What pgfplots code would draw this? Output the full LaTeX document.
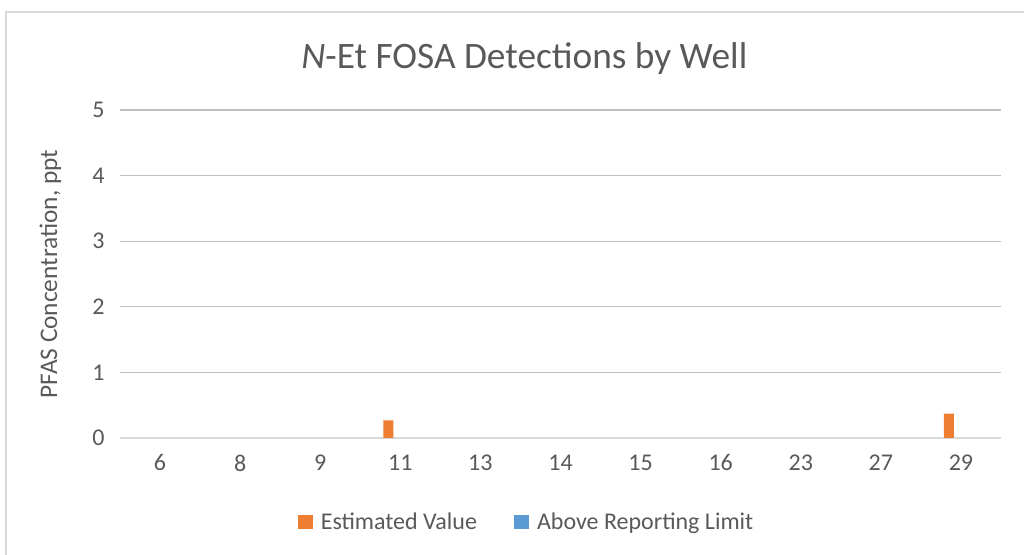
\documentclass[border=0pt]{standalone}
\usepackage{pgfplots}
\pgfplotsset{compat=1.18}
\usepackage{fontspec}
\setmainfont{Carlito}
\definecolor{txt}{RGB}{89,89,89}
\definecolor{grid}{RGB}{217,217,217}
\definecolor{orng}{RGB}{237,125,49}
\definecolor{blu}{RGB}{91,155,213}
\begin{document}
\begin{tikzpicture}
\path[use as bounding box] (0,0) rectangle (768pt,416.25pt);
\draw[grid, line width=0.9pt] (4.5pt,0) -- (4.5pt,407.25pt) -- (768pt,407.25pt);
\begin{axis}[
  at={(90pt,87.75pt)}, anchor=south west,
  scale only axis, width=660.75pt, height=246pt,
  xmin=-0.5, xmax=10.5, ymin=0, ymax=5,
  xtick={0,...,10},
  xticklabels={6,8,9,11,13,14,15,16,23,27,29},
  ytick={0,1,2,3,4,5},
  /pgf/number format/assume math mode=true,
  axis x line*=bottom, axis y line*=left,
  x axis line style={grid, line width=0.9pt, -},
  y axis line style={draw=none},
  ymajorgrids, xmajorgrids=false, grid style={grid, line width=0.9pt},
  major tick length=0pt,
  tick label style={font=\fontsize{18}{21}\selectfont, text=txt},
  xticklabel style={yshift=-9pt},
  yticklabel style={xshift=-8pt},
  ylabel={PFAS Concentration, ppt},
  ylabel style={font=\fontsize{19}{22}\selectfont, text=txt,
    at={(axis description cs:-0.079,0.5)}, anchor=center},
  title={\textit{N}-Et FOSA Detections by Well},
  title style={font=\fontsize{28}{32}\selectfont, text=txt, at={(0.459,1)}, yshift=17pt},
  legend style={at={(0.462,-0.256)}, anchor=center, draw=none, fill=none,
    legend columns=2, font=\fontsize{18}{21}\selectfont, text=txt,
    /tikz/every odd column/.append style={column sep=4pt},
    /tikz/every even column/.append style={column sep=26pt}},
  legend image code/.code={\fill[#1] (0pt,-5.5pt) rectangle (11pt,5.5pt);},
  legend cell align=left,
]
\addplot[ybar, bar width=7.5pt, bar shift=-9pt, fill=orng, draw=none]
  coordinates {(3,0.27) (10,0.37)};
\addlegendentry{Estimated Value}
\addlegendimage{fill=blu, draw=none}
\addlegendentry{Above Reporting Limit}
\end{axis}
\end{tikzpicture}
\end{document}
